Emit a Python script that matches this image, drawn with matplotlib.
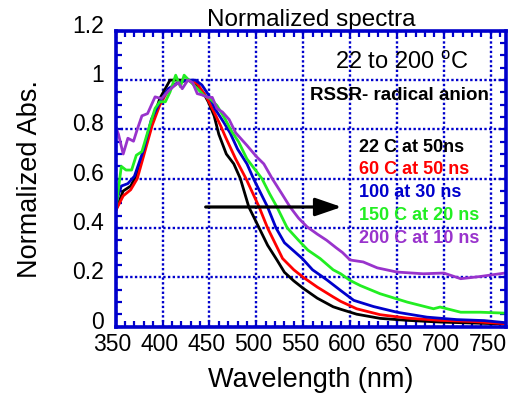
import matplotlib
matplotlib.use("Agg")
import matplotlib.pyplot as plt
from matplotlib.ticker import MultipleLocator, FixedLocator
import matplotlib.transforms as mtransforms

plt.rcParams['font.family'] = ['Liberation Sans', 'DejaVu Sans']
plt.rcParams['mathtext.fontset'] = 'custom'
plt.rcParams['mathtext.rm'] = 'Liberation Sans'

# ---------------- data ----------------
wl_22 = [350, 358, 366, 373, 380, 389, 397, 408, 416, 428, 437, 444, 449, 455, 460,
         468, 476, 483, 492, 503, 512, 522, 530, 540, 550, 565, 582, 590, 607, 632,
         661, 696, 732, 767]
abs_22 = [0.47, 0.55, 0.57, 0.62, 0.71, 0.83, 0.925, 1.0, 1.0, 1.0, 0.975, 0.945, 0.91,
          0.855, 0.78, 0.70, 0.66, 0.60, 0.485, 0.40, 0.33, 0.27, 0.22, 0.185, 0.155,
          0.115, 0.08, 0.07, 0.05, 0.033, 0.025, 0.018, 0.014, 0.01]

wl_60 = [350, 358, 366, 373, 380, 389, 397, 406, 415, 426, 437, 447, 455, 462, 467,
         478, 489, 503, 512, 528, 540, 550, 565, 582, 590, 607, 632, 661, 696, 732, 767]
abs_60 = [0.47, 0.53, 0.555, 0.60, 0.695, 0.817, 0.898, 0.96, 0.986, 1.0, 0.986, 0.93,
          0.87, 0.814, 0.77, 0.68, 0.60, 0.485, 0.40, 0.276, 0.23, 0.20, 0.16, 0.12,
          0.102, 0.072, 0.048, 0.034, 0.025, 0.02, 0.011]

wl_100 = [350, 356, 363, 370, 380, 388, 397, 406, 415, 426, 435, 442, 449, 456, 465,
          472, 480, 490, 497, 512, 521, 530, 549, 560, 575, 590, 604, 625, 650, 682,
          714, 743, 767]
abs_100 = [0.50, 0.57, 0.58, 0.61, 0.72, 0.84, 0.91, 0.965, 0.986, 1.0, 1.0, 0.98, 0.94,
           0.883, 0.83, 0.786, 0.72, 0.66, 0.60, 0.485, 0.40, 0.34, 0.276, 0.23, 0.19,
           0.146, 0.106, 0.081, 0.058, 0.038, 0.028, 0.024, 0.015]

wl_150 = [350, 356, 361, 367, 372, 378, 385, 392, 397, 403, 408, 414, 419, 423, 428,
          437, 444, 451, 458, 467, 474, 481, 490, 506, 514, 522, 533, 545, 555, 568,
          582, 590, 600, 611, 632, 661, 689, 696, 718, 739, 767]
abs_150 = [0.47, 0.65, 0.635, 0.635, 0.695, 0.71, 0.80, 0.885, 0.912, 0.912, 0.952, 1.02,
           0.973, 1.02, 1.0, 0.966, 0.938, 0.924, 0.897, 0.84, 0.79, 0.75, 0.68, 0.60,
           0.54, 0.485, 0.40, 0.35, 0.31, 0.276, 0.23, 0.214, 0.187, 0.166, 0.133,
           0.099, 0.072, 0.079, 0.058, 0.058, 0.054]

wl_200 = [350, 353, 358, 363, 369, 373, 378, 384, 392, 399, 406, 412, 417, 421, 427,
          432, 437, 442, 448, 453, 458, 464, 471, 478, 490, 500, 508, 517, 527, 536,
          545, 554, 565, 575, 585, 592, 600, 614, 629, 650, 678, 700, 718, 739, 767]
abs_200 = [0.81, 0.78, 0.70, 0.764, 0.752, 0.80, 0.855, 0.864, 0.932, 0.925, 0.955, 0.975,
           0.99, 0.965, 1.0, 0.99, 0.945, 0.94, 0.93, 0.93, 0.885, 0.87, 0.84, 0.786,
           0.735, 0.69, 0.66, 0.60, 0.54, 0.485, 0.44, 0.405, 0.375, 0.35, 0.32, 0.30,
           0.27, 0.262, 0.238, 0.221, 0.214, 0.217, 0.194, 0.203, 0.218]

series_labels = ["22 C at 50ns", "60 C at 50 ns", "100 at 30 ns",
                 "150 C at 20 ns", "200 C at 10 ns"]
series_colors = ["#000000", "#ff0000", "#0000cc", "#22ee22", "#9933cc"]

x_ticks = [350, 400, 450, 500, 550, 600, 650, 700, 750]
y_ticks = [0, 0.2, 0.4, 0.6, 0.8, 1.0, 1.2]
y_ticklabels = ["0", "0.2", "0.4", "0.6", "0.8", "1", "1.2"]

arrow_start = (446, 0.485)
arrow_end = (591, 0.485)

# ---------------- figure ----------------
frame = "#0000cc"
fig = plt.figure(figsize=(5.16, 3.94), dpi=100)
ax = fig.add_axes([0.2242, 0.1713, 0.9806 - 0.2242, 0.9218 - 0.1713])

data = [(wl_22, abs_22), (wl_60, abs_60), (wl_100, abs_100),
        (wl_150, abs_150), (wl_200, abs_200)]
for (w, a), c in zip(data, series_colors):
    ax.plot(w, a, color=c, lw=2.0, solid_joinstyle='round', zorder=3)

ax.set_xlim(350, 766.3)
ax.set_ylim(0, 1.2)

ax.xaxis.set_major_locator(FixedLocator(x_ticks))
ax.xaxis.set_minor_locator(MultipleLocator(10))
ax.yaxis.set_major_locator(FixedLocator(y_ticks))
ax.yaxis.set_minor_locator(MultipleLocator(0.05))
ax.set_xticklabels([str(t) for t in x_ticks])
ax.set_yticklabels(y_ticklabels)

ax.tick_params(which='both', direction='in', top=True, right=True, color=frame)
ax.tick_params(which='major', length=5, width=1.6)
ax.tick_params(which='minor', length=4, width=1.6)
ax.tick_params(axis='x', which='major', labelsize=16.5, pad=4.5)
ax.tick_params(axis='y', which='major', labelsize=16.5, pad=8.5)

for s in ax.spines.values():
    s.set_color(frame)
    s.set_linewidth(2.6)
    s.set_zorder(5)

ax.grid(True, which='major', color=frame, linestyle=(0, (1, 1)), lw=1.7, zorder=1)
ax.set_axisbelow(True)

# nudge tick labels a little like the reference
off_y = mtransforms.ScaledTranslation(0, 7 / 100, fig.dpi_scale_trans)
for lab in ax.get_yticklabels():
    lab.set_transform(lab.get_transform() + off_y)
off_x = mtransforms.ScaledTranslation(-3 / 100, 0, fig.dpi_scale_trans)
for lab in ax.get_xticklabels():
    lab.set_transform(lab.get_transform() + off_x)

ax.set_title("Normalized spectra", fontsize=17.5, pad=1)
ax.set_xlabel("Wavelength (nm)", fontsize=19.5)
ax.xaxis.set_label_coords(0.5, -0.136)
ax.set_ylabel("Normalized Abs.", fontsize=19.5)
ax.yaxis.set_label_coords(-0.1855, 0.5)

ax.text(584, 1.047, r"22 to 200 $^{\mathrm{o}}$C", fontsize=17, ha='left',
        va='baseline', zorder=6)
ax.text(557, 0.918, "RSSR- radical anion", fontsize=13.5, fontweight='bold',
        ha='left', va='baseline', zorder=6)

label_y = [0.709, 0.619, 0.527, 0.432, 0.340]
for lab, c, yy in zip(series_labels, series_colors, label_y):
    ax.text(609.5, yy, lab, color=c, fontsize=13, fontweight='bold',
            ha='left', va='baseline', zorder=6)

ax.annotate("", xy=arrow_end, xytext=arrow_start,
            arrowprops=dict(arrowstyle="-|>,head_length=1.6,head_width=0.55",
                            mutation_scale=10, lw=2.3, color='black',
                            shrinkA=0, shrinkB=0), zorder=6)

fig.savefig("out.png", dpi=100)
